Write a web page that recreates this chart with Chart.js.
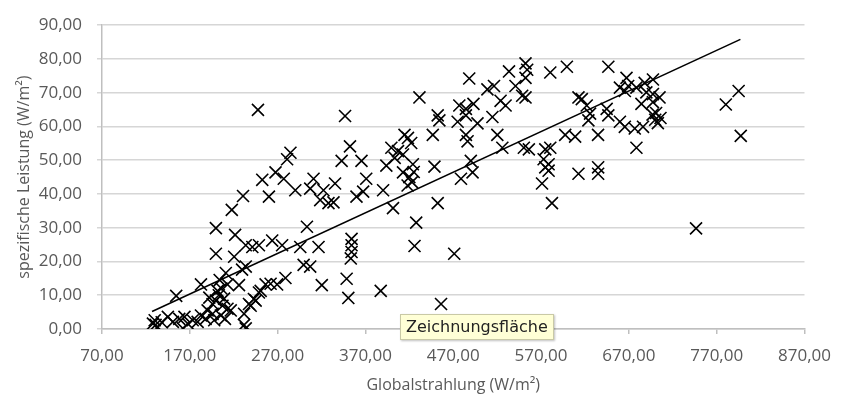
<!DOCTYPE html>
<html>
<head>
<meta charset="utf-8">
<script src="https://cdn.jsdelivr.net/npm/chart.js@4"></script>
<style>
    body { margin: 0; background: #fff; }
    #wrap { position: relative; width: 843px; height: 397px; }
    #hint {
        position: absolute; left: 400px; top: 314px;
        padding: 2px 5px 3px 5px;
        font: 16px "DejaVu Sans", sans-serif; color: #222;
        background: #ffffd6; border: 1px solid #c9c9a6;
        box-shadow: 1px 1px 2px rgba(0, 0, 0, 0.25);
        white-space: nowrap;
    }
</style>
</head>
<body>
<div id="wrap">
    <canvas id="chart" width="843" height="397"></canvas>
    <div id="hint">Zeichnungsfläche</div>
</div>
<script>
'use strict'

// Globalstrahlung (W/m²)
const globalstrahlung = [
    128, 130, 133, 131, 145, 150.7, 154.5, 162, 163.9, 173.3,
    178.9, 182.7, 182.7, 190.3, 192.2, 195.9, 197.8, 199.7, 201.6, 205.3,
    207.2, 212.9, 212.9, 211, 216.6, 199.7, 199.7, 217.8, 220.5, 221.6,
    229.5, 233.7, 231.8, 231.8, 237.4, 243, 248.7, 256.3, 230.6, 233.7,
    203, 206, 209, 204, 210, 196, 188, 168, 158, 138,
    247.6, 346.8, 352.4, 342.9, 365.5, 399.5, 393.8, 284.6, 280.8, 267.6,
    277, 252.5, 290.1, 310.9, 307.1, 322.2, 335.4, 318.5, 327.9, 333.6,
    260.1, 370.9, 367.4, 359.8, 390.1, 401.4, 303.4, 263.8, 275.1, 241.2,
    248.7, 295.8, 316.6, 354.2, 354.2, 354.2, 353.3, 299.6, 307.1, 320.3,
    348.6, 350.5, 387.4, 226, 278.9, 269.4, 262, 250.7, 245, 239.3,
    233.7, 488.2, 533.5, 552.3, 554.2, 552.3, 580.5, 431.5, 508.9, 516.4,
    540.9, 548.5, 552.3, 523.9, 476.9, 484.4, 493, 484.4, 529.6, 452.3,
    454.2, 475, 497.6, 514.6, 446.7, 484.4, 486.3, 520.2, 525.9, 550.4,
    556.1, 574.8, 572.9, 574.8, 571.1, 582.4, 414.5, 418.4, 422.1, 407.1,
    424, 448.6, 412.8, 420, 423, 418, 425, 490, 492, 478.8,
    452.3, 427.8, 425.9, 471.1, 456.1, 403.3, 412.8, 599.4, 646.6, 667.3,
    659.8, 669.2, 665.4, 688, 697.4, 678.6, 689.9, 697.4, 704.9, 612.6,
    616.4, 622, 684.3, 697.4, 644.7, 646.6, 625.8, 623.9, 697, 700,
    703, 706, 701, 659.8, 665.4, 676.7, 686.1, 597.5, 608.8, 634.9,
    678.6, 580.5, 578.6, 578.6, 612.6, 635, 635, 795, 780.4, 797.4,
    746.5
]

// spezifische Leistung (W/m²)
const leistung = [
    1.6, 2.6, 0.4, 1.2, 3.6, 2.1, 9.8, 0.2, 3.6, 2.6,
    2.1, 4, 13.2, 5.5, 9.3, 7.4, 2.6, 8.4, 11.3, 4,
    6.9, 6, 13.2, 16.6, 5.5, 22.3, 29.9, 35.3, 21.4, 27.9,
    17.6, 18.5, 4.5, 1.2, 7.4, 8.9, 10.8, 13.2, 39.4, 24.8,
    10, 12, 9, 14.5, 3, 4.5, 3, 1.5, 3, 2,
    64.9, 63.1, 54.1, 49.8, 49.8, 53.7, 48.4, 52.2, 50.3, 46.4,
    44.5, 44.2, 41.1, 44.5, 41.6, 41.1, 43.1, 38.2, 37.3, 37.5,
    39.2, 44.5, 40.7, 39.2, 41.1, 35.8, 30.3, 26.2, 24.8, 24.3,
    24.8, 24.3, 24.3, 26.7, 24.8, 22.8, 20.9, 19, 18.5, 13,
    14.9, 9.2, 11.3, 13, 15.1, 13.2, 13.4, 11.3, 8.4, 6.9,
    0.2, 74.2, 76.3, 78.7, 76.8, 74.4, 76, 68.6, 71, 72,
    72, 69.1, 68.6, 67.6, 66.2, 65.2, 66.7, 63.3, 66.2, 63.3,
    61.8, 61.4, 60.9, 62.8, 57.5, 57.5, 55.6, 57.5, 53.7, 53.7,
    53.2, 53.2, 50.3, 47.9, 43.1, 37.3, 57.5, 56.6, 55.1, 52.7,
    48.8, 48.1, 46.4, 45, 43.5, 42.5, 46.5, 49.8, 46.4, 44.5,
    37.3, 31.5, 24.6, 22.3, 7.4, 50.7, 51.7, 77.7, 77.7, 74.4,
    71.5, 72, 70.5, 72.9, 73.9, 71.5, 70.1, 69.6, 68.6, 68.6,
    68.1, 66.2, 66.7, 67.2, 65.2, 63.3, 63.8, 61.8, 63.5, 62,
    61, 62.5, 64, 61.4, 59.9, 59.4, 59.9, 57.5, 57, 57.5,
    53.7, 53.7, 48.8, 46.9, 46, 47.9, 46, 70.5, 66.5, 57.2,
    29.8
]

const trendX = [127, 797]
const trendY = [5.2, 85.8]

const xTicks = { min: 70, max: 870, step: 100 }
const yTicks = { min: 0, max: 90, step: 10 }

const axisColor = '#bfbfbf'
const gridColor = '#d6d6d6'
const labelColor = '#595959'
const fontFamily = '"Open Sans", sans-serif'

const formatDE = v => v.toFixed(2).replace('.', ',')

const points = globalstrahlung.map((x, i) => ({ x: x, y: leistung[i] }))
const trend = trendX.map((x, i) => ({ x: x, y: trendY[i] }))

const ctx = document.getElementById('chart')

const config = {
    type: 'scatter',
    data: {
        datasets: [
            {
                label: 'Messwerte',
                data: points,
                pointStyle: 'crossRot',
                pointRadius: 8.5,
                pointBorderWidth: 1.6,
                borderColor: '#000',
                backgroundColor: '#000'
            },
            {
                label: 'Trend',
                type: 'line',
                data: trend,
                borderColor: '#000',
                borderWidth: 1.6,
                pointRadius: 0,
                fill: false
            }
        ]
    },
    options: {
        responsive: false,
        animation: false,
        layout: { padding: { top: 17, right: 34, bottom: 0, left: 0 } },
        plugins: {
            legend: { display: false },
            tooltip: { enabled: false }
        },
        scales: {
            x: {
                type: 'linear',
                min: xTicks.min,
                max: xTicks.max,
                afterFit: scale => { scale.height = 68 },
                ticks: {
                    stepSize: xTicks.step,
                    padding: 12,
                    color: labelColor,
                    font: { family: fontFamily, size: 17 },
                    callback: v => formatDE(v)
                },
                grid: { drawOnChartArea: false, tickLength: 5, color: axisColor, lineWidth: 1.5 },
                border: { color: axisColor, width: 1.5 },
                title: {
                    display: true,
                    text: 'Globalstrahlung (W/m²)',
                    color: labelColor,
                    font: { family: fontFamily, size: 16 },
                    padding: { top: 0, bottom: 2 }
                }
            },
            y: {
                min: yTicks.min,
                max: yTicks.max,
                afterFit: scale => { scale.width = 102 },
                ticks: {
                    stepSize: yTicks.step,
                    padding: 15,
                    color: labelColor,
                    font: { family: fontFamily, size: 17 },
                    callback: v => formatDE(v)
                },
                grid: { color: gridColor, tickLength: 5, lineWidth: 1.5 },
                border: { color: axisColor, width: 1.5 },
                title: {
                    display: true,
                    text: 'spezifische Leistung (W/m²)',
                    color: labelColor,
                    font: { family: fontFamily, size: 16 },
                    padding: { top: 15, bottom: 0 }
                }
            }
        }
    }
}

const myChart = new Chart(ctx, config)
</script>
</body>
</html>
